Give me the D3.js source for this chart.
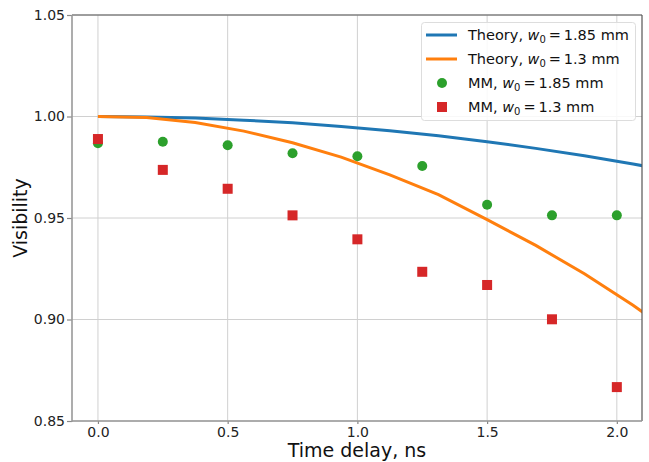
<!DOCTYPE html>
<html>
<head>
<meta charset="utf-8">
<script src="https://cdn.jsdelivr.net/npm/d3@7"></script>
<style>
  body { margin: 0; background: #fff; }
  text { font-family: "DejaVu Sans", sans-serif; }
</style>
</head>
<body>
<script>
// data
var theoryT = [0, 0.1875, 0.375, 0.5625, 0.75, 0.9375, 1.125, 1.3125, 1.5, 1.6875, 1.875, 2.0625, 2.25];
var theory185 = [1.0, 0.9998, 0.9992, 0.9982, 0.9969, 0.9951, 0.9930, 0.9905, 0.9876, 0.9843, 0.9807, 0.9766, 0.9723];
var theory13 = [1.0, 0.9995, 0.9970, 0.9928, 0.9871, 0.9800, 0.9712, 0.9615, 0.9492, 0.9365, 0.9225, 0.9070, 0.8900];

var mmT = [0, 0.25, 0.5, 0.75, 1.0, 1.25, 1.5, 1.75, 2.0];
var mm185 = [0.9868, 0.9876, 0.9858, 0.9819, 0.9804, 0.9756, 0.9565, 0.9513, 0.9513];
var mm13 = [0.9889, 0.9737, 0.9644, 0.9513, 0.9395, 0.9235, 0.9170, 0.9001, 0.8667];

var xTicks = [0.0, 0.5, 1.0, 1.5, 2.0];
var yTicks = [0.85, 0.90, 0.95, 1.00, 1.05];

var width = 649, height = 462;
var pL = 72, pR = 642, pT = 15, pB = 421;

var svg = d3.select("body").append("svg")
    .attr("width", width)
    .attr("height", height);

var x = d3.scaleLinear().domain([-0.1, 2.097]).range([pL, pR]);
var y = d3.scaleLinear().domain([0.85, 1.05]).range([pB, pT]);

// grid
svg.append("g")
    .selectAll("line")
    .data(xTicks).enter().append("line")
    .attr("x1", d => x(d)).attr("x2", d => x(d))
    .attr("y1", pT).attr("y2", pB)
    .attr("stroke", "#d0d0d0").attr("stroke-width", 1);
svg.append("g")
    .selectAll("line")
    .data(yTicks).enter().append("line")
    .attr("x1", pL).attr("x2", pR)
    .attr("y1", d => y(d)).attr("y2", d => y(d))
    .attr("stroke", "#d0d0d0").attr("stroke-width", 1);

// axes
var xAxis = svg.append("g")
    .attr("transform", "translate(0," + pB + ")")
    .call(d3.axisBottom(x).tickValues(xTicks).tickFormat(d3.format(".1f")).tickSize(3).tickPadding(3));
var yAxis = svg.append("g")
    .attr("transform", "translate(" + pL + ",0)")
    .call(d3.axisLeft(y).tickValues(yTicks).tickFormat(d3.format(".2f")).tickSize(5).tickPadding(2));
[xAxis, yAxis].forEach(function(a) {
  a.select(".domain").remove();
  a.selectAll(".tick line").attr("stroke", "#888").attr("stroke-width", 1.2);
  a.selectAll("text")
    .style("font-size", "14px")
    .style("font-family", "DejaVu Sans, sans-serif")
    .attr("fill", "#222");
});

// clip
svg.append("clipPath").attr("id", "clip")
  .append("rect").attr("x", pL).attr("y", pT)
  .attr("width", pR - pL).attr("height", pB - pT);

var line = d3.line()
    .x((d, i) => x(theoryT[i]))
    .y(d => y(d));

var plot = svg.append("g").attr("clip-path", "url(#clip)");

plot.append("path")
    .datum(theory185)
    .attr("d", line)
    .attr("fill", "none")
    .attr("stroke", "#1f77b4")
    .attr("stroke-width", 3);

plot.append("path")
    .datum(theory13)
    .attr("d", line)
    .attr("fill", "none")
    .attr("stroke", "#ff7f0e")
    .attr("stroke-width", 3);

svg.append("g").selectAll("circle")
    .data(mm185).enter().append("circle")
    .attr("cx", (d, i) => x(mmT[i]))
    .attr("cy", d => y(d))
    .attr("r", 5)
    .attr("fill", "#2ca02c");

svg.append("g").selectAll("rect")
    .data(mm13).enter().append("rect")
    .attr("x", (d, i) => x(mmT[i]) - 5)
    .attr("y", d => y(d) - 5)
    .attr("width", 10)
    .attr("height", 10)
    .attr("fill", "#d62728");

// spines: top/right darker, left/bottom lighter grey
svg.append("line").attr("x1", pL).attr("x2", pR).attr("y1", pT).attr("y2", pT)
    .attr("stroke", "#555").attr("stroke-width", 1.2);
svg.append("line").attr("x1", pR).attr("x2", pR).attr("y1", pT).attr("y2", pB)
    .attr("stroke", "#555").attr("stroke-width", 1.2);
svg.append("line").attr("x1", pL).attr("x2", pL).attr("y1", pT).attr("y2", pB + 0.8)
    .attr("stroke", "#999").attr("stroke-width", 1.6);
svg.append("line").attr("x1", pL).attr("x2", pR).attr("y1", pB).attr("y2", pB)
    .attr("stroke", "#999").attr("stroke-width", 1.6);

// axis titles
svg.append("text")
    .attr("x", (pL + pR) / 2)
    .attr("y", 456.5)
    .attr("text-anchor", "middle")
    .style("font-size", "19px")
    .attr("fill", "#111")
    .text("Time delay, ns");

svg.append("text")
    .attr("transform", "translate(27," + ((pT + pB) / 2) + ") rotate(-90)")
    .attr("text-anchor", "middle")
    .style("font-size", "19px")
    .attr("fill", "#111")
    .text("Visibility");

// legend
var legendNames = ["Theory, ", "Theory, ", "MM, ", "MM, "];
var legendW = ["1.85 mm", "1.3 mm", "1.85 mm", "1.3 mm"];
var legendCol = ["#1f77b4", "#ff7f0e", "#2ca02c", "#d62728"];
var legendKind = ["line", "line", "circle", "square"];

var lg = svg.append("g");
lg.append("rect")
    .attr("x", 421.5).attr("y", 22.5)
    .attr("width", 214).attr("height", 98)
    .attr("rx", 3)
    .attr("fill", "#fff").attr("fill-opacity", 0.85)
    .attr("stroke", "#ddd");

legendNames.forEach(function(name, i) {
  var ly = 35 + i * 24;
  if (legendKind[i] == "line") {
    lg.append("line")
      .attr("x1", 426).attr("x2", 457)
      .attr("y1", ly).attr("y2", ly)
      .attr("stroke", legendCol[i]).attr("stroke-width", 3);
  } else if (legendKind[i] == "circle") {
    lg.append("circle").attr("cx", 442).attr("cy", ly).attr("r", 5).attr("fill", legendCol[i]);
  } else {
    lg.append("rect").attr("x", 437).attr("y", ly - 5).attr("width", 10).attr("height", 10).attr("fill", legendCol[i]);
  }
  var t = lg.append("text")
      .attr("x", 468).attr("y", ly + 5)
      .style("font-size", "14.5px")
      .attr("fill", "#111");
  t.append("tspan").text(name);
  t.append("tspan").style("font-style", "italic").text("w");
  t.append("tspan").attr("dy", 3).style("font-size", "10px").text("0");
  t.append("tspan").attr("dy", -3).text("\u2009=\u2009" + legendW[i]);
});
</script>
</body>
</html>
